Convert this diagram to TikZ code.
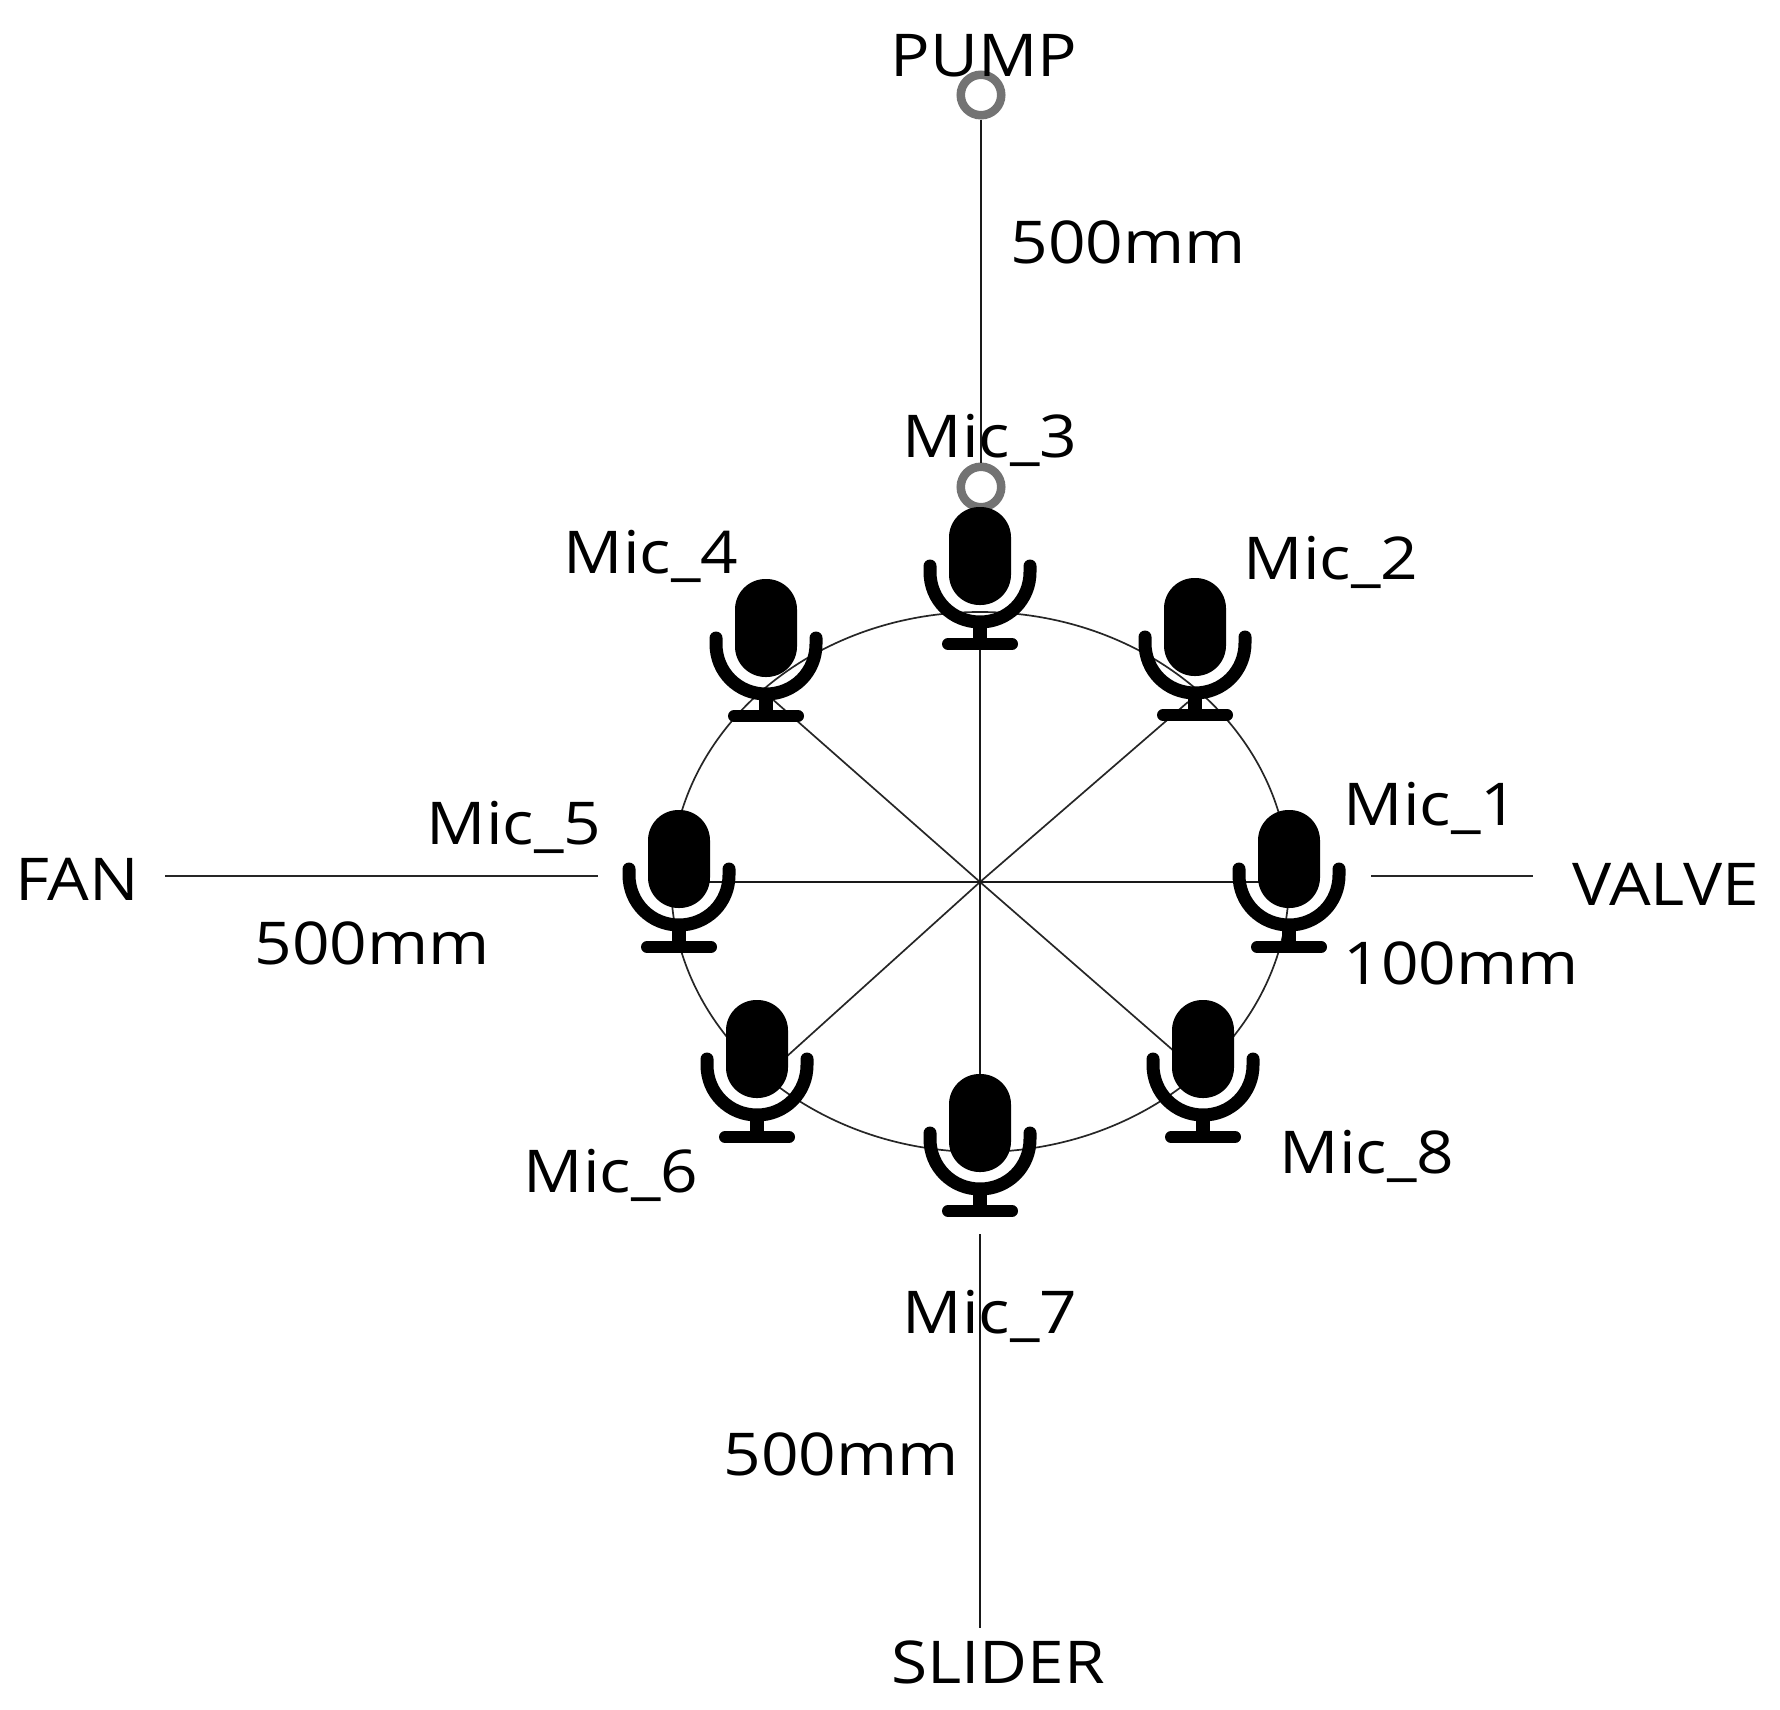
\documentclass[tikz,border=0pt]{standalone}
\usepackage{fontspec}
\setmainfont[FakeStretch=1.115]{Open Sans}
\tikzset{
  x=1pt,y=-1pt,
  lbl/.style={anchor=base,inner sep=0pt,outer sep=0pt,font=\fontsize{59}{59}\selectfont,text=black},
  ring/.style={circle,draw=black!55,fill=white,line width=8.5pt,minimum size=40.5pt,inner sep=0pt,outer sep=4.25pt},
  thin line/.style={draw=black!85,line width=1.7pt},
  main line/.style={draw=black!90,line width=2.2pt},
  mic/.pic={
    \fill[black,rounded corners=30.5pt] (-31,0) rectangle (31,98);
    \draw[black,line width=13pt,line cap=round] (-50,59) -- (-50,65) .. controls (-50,93) and (-28,115) .. (0,115) .. controls (28,115) and (50,93) .. (50,65) -- (50,59);
    \fill[black] (-7,114) rectangle (7,134);
    \draw[black,line width=12pt,line cap=round] (-32,137) -- (32,137);
  }
}
\begin{document}
\begin{tikzpicture}
\useasboundingbox (0,0) rectangle (1780,1710);
% anchors
\coordinate (C) at (980,882);
\coordinate (S2) at (1188,702);
\coordinate (S4) at (762,690);
\coordinate (S6) at (785,1058);
\coordinate (S8) at (1175,1052);
\coordinate (S5) at (679,882);
\coordinate (S1) at (1289,882);
\coordinate (S3) at (980,640);
\coordinate (S7) at (980,1150);
\coordinate (FanA) at (165,876);
\coordinate (FanB) at (598,876);
\coordinate (ValA) at (1371,876);
\coordinate (ValB) at (1533,876);
\coordinate (SlA) at (980,1234);
\coordinate (SlB) at (980,1628);
% ring of microphones
\draw[thin line] (C) ellipse [x radius=309,y radius=270];
% spokes
\draw[thin line] (C) -- (S2);
\draw[thin line] (C) -- (S4);
\draw[thin line] (C) -- (S6);
\draw[thin line] (C) -- (S8);
\draw[main line] (S5) -- (S1);
\draw[main line] (S3) -- (S7);
% sound sources
\node[ring] (pump) at (981,95) {};
\node[ring] (m3) at (981,487) {};
\draw[main line] (pump) -- (m3);
\draw[thin line] (FanA) -- (FanB);
\draw[thin line] (ValA) -- (ValB);
\draw[main line] (SlA) -- (SlB);
% microphones
\pic (mic1) at (1289,810) {mic};
\pic (mic2) at (1195,578) {mic};
\pic (mic3) at (980,507) {mic};
\pic (mic4) at (766,579) {mic};
\pic (mic5) at (679,810) {mic};
\pic (mic6) at (757,1000) {mic};
\pic (mic7) at (980,1074) {mic};
\pic (mic8) at (1203,1000) {mic};
% labels
\node[lbl] (tPump) at (984,77) {PUMP};
\node[lbl] (tD1) at (1128,263) {500mm};
\node[lbl] (t3) at (990,457) {Mic\_3};
\node[lbl] (t4) at (651,573) {Mic\_4};
\node[lbl] (t2) at (1331,579) {Mic\_2};
\node[lbl] (t1) at (1431,825) {Mic\_1};
\node[lbl] (t5) at (514,844) {Mic\_5};
\node[lbl] (tFan) at (77,900) {FAN};
\node[lbl] (tVal) at (1666,905) {VALVE};
\node[lbl] (tD2) at (372,964) {500mm};
\node[lbl] (tD3) at (1461,984) {100mm};
\node[lbl] (t6) at (611,1192) {Mic\_6};
\node[lbl] (t8) at (1367,1173) {Mic\_8};
\node[lbl] (t7) at (990,1333) {Mic\_7};
\node[lbl] (tD4) at (841,1475) {500mm};
\node[lbl] (tSl) at (998,1683) {SLIDER};
\end{tikzpicture}
\end{document}
